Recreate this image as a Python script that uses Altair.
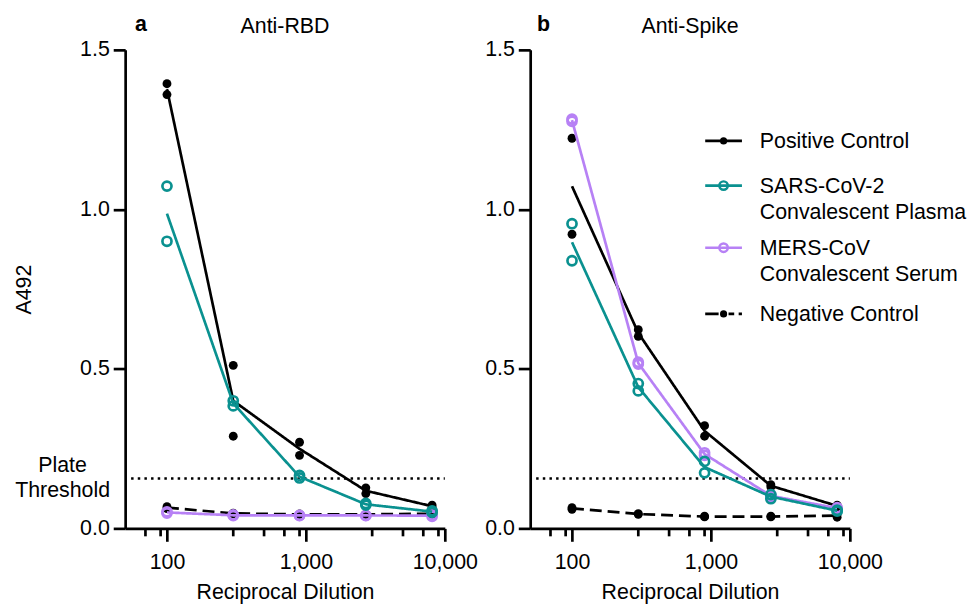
import altair as alt
import pandas as pd

# ---------------- data ----------------
dilutions = [100, 300, 900, 2700, 8100]
major_ticks = [100, 1000, 10000]
minor_ticks = [70, 90, 300, 500, 700, 900, 3000, 5000, 7000, 9000]
plate_threshold = [0.156]

series_names = ["Positive Control", "SARS-CoV-2 Convalescent Plasma",
                "MERS-CoV Convalescent Serum", "Negative Control"]
series_labels = ["Positive Control", "SARS-CoV-2\nConvalescent Plasma",
                 "MERS-CoV\nConvalescent Serum", "Negative Control"]
series_colors = ["#000000", "#0A9190", "#B781F5", "#000000"]

# Anti-RBD, two replicates per dilution
rbd_pos_1 = [1.394, 0.511, 0.270, 0.127, 0.073]
rbd_pos_2 = [1.360, 0.289, 0.229, 0.109, 0.066]
rbd_sars_1 = [1.073, 0.400, 0.166, 0.078, 0.055]
rbd_sars_2 = [0.900, 0.384, 0.158, 0.073, 0.050]
rbd_mers_1 = [0.052, 0.042, 0.041, 0.041, 0.042]
rbd_mers_2 = [0.048, 0.040, 0.040, 0.040, 0.038]
rbd_neg_1 = [0.068, 0.048, 0.045, 0.045, 0.047]
rbd_neg_2 = [0.062, 0.046, 0.043, 0.043, 0.045]

# Anti-Spike, two replicates per dilution
spk_pos_1 = [1.223, 0.623, 0.322, 0.137, 0.073]
spk_pos_2 = [0.922, 0.602, 0.289, 0.130, 0.068]
spk_sars_1 = [0.955, 0.454, 0.210, 0.106, 0.057]
spk_sars_2 = [0.839, 0.431, 0.174, 0.093, 0.054]
spk_mers_1 = [1.283, 0.521, 0.237, 0.105, 0.065]
spk_mers_2 = [1.276, 0.515, 0.229, 0.099, 0.062]
spk_neg_1 = [0.065, 0.046, 0.038, 0.038, 0.045]
spk_neg_2 = [0.060, 0.044, 0.036, 0.036, 0.035]

readings = {
    "rbd": {
        "Positive Control": (rbd_pos_1, rbd_pos_2),
        "SARS-CoV-2 Convalescent Plasma": (rbd_sars_1, rbd_sars_2),
        "MERS-CoV Convalescent Serum": (rbd_mers_1, rbd_mers_2),
        "Negative Control": (rbd_neg_1, rbd_neg_2),
    },
    "spike": {
        "Positive Control": (spk_pos_1, spk_pos_2),
        "SARS-CoV-2 Convalescent Plasma": (spk_sars_1, spk_sars_2),
        "MERS-CoV Convalescent Serum": (spk_mers_1, spk_mers_2),
        "Negative Control": (spk_neg_1, spk_neg_2),
    },
}

# ---------------- styling ----------------
FONT = "Liberation Sans"
FS = 21.5
W, H = 322, 482
LW = 2.7
draw_order = ["Negative Control", "Positive Control",
              "MERS-CoV Convalescent Serum", "SARS-CoV-2 Convalescent Plasma"]
filled = {"Positive Control": True, "Negative Control": True,
          "SARS-CoV-2 Convalescent Plasma": False, "MERS-CoV Convalescent Serum": False}
line_dash = {"Negative Control": [12, 6]}
legend_dash = {"Negative Control": [13.5, 10, 5.7, 4.5]}

# legend placement inside panel b (pixels from the plot's top-left corner)
LEG_X1, LEG_X2, LEG_TX = 176.3, 213.3, 231.3
legend_rows_y = [91.7, 136.7, 199.3, 266.0]

color_scale = alt.Scale(domain=series_names, range=series_colors)


def frame(key, name):
    r1, r2 = readings[key][name]
    rows = []
    for d, a, b in zip(dilutions, r1, r2):
        rows.append({"dilution": d, "value": a, "series": name})
        rows.append({"dilution": d, "value": b, "series": name})
    return pd.DataFrame(rows)


def legend_layers():
    out = []
    for name, label, col, yy in zip(series_names, series_labels, series_colors, legend_rows_y):
        row = pd.DataFrame({"series": [name], "label": [label]})
        base = alt.Chart(row)
        out.append(base.mark_rule(color=col, strokeWidth=LW,
                                  strokeDash=legend_dash.get(name, [1, 0]))
                   .encode(x=alt.value(LEG_X1), x2=alt.value(LEG_X2), y=alt.value(yy)))
        if filled[name]:
            out.append(base.mark_point(filled=True, size=52, color=col, opacity=1)
                       .encode(x=alt.value((LEG_X1 + LEG_X2) / 2), y=alt.value(yy)))
        else:
            out.append(base.mark_point(filled=False, size=72, strokeWidth=2.5, color=col, opacity=1)
                       .encode(x=alt.value((LEG_X1 + LEG_X2) / 2), y=alt.value(yy)))
        out.append(base.mark_text(font=FONT, fontSize=FS, align="left", baseline="middle",
                                  lineBreak="\n", lineHeight=26.5, color="black")
                   .encode(text="label:N", x=alt.value(LEG_TX), y=alt.value(yy + 1)))
    return out


def panel(key, letter, title, first):
    x_enc = alt.X("dilution:Q",
                  scale=alt.Scale(type="log", domain=[50, 10000], nice=False),
                  axis=alt.Axis(values=major_ticks, format=",", title="Reciprocal Dilution",
                                labelFlush=False, labelOverlap=False, tickSize=13,
                                labelPadding=10, titlePadding=9, grid=False))
    y_enc = alt.Y("value:Q",
                  scale=alt.Scale(domain=[0, 1.5], nice=False, zero=False),
                  axis=alt.Axis(values=[0, 0.5, 1.0, 1.5], format=".1f",
                                title="A492" if first else None,
                                labelFlush=False, labelOverlap=False, tickSize=12,
                                labelPadding=4, titlePadding=44, grid=False))
    layers = []
    # plate threshold
    thr = pd.DataFrame({"value": plate_threshold})
    layers.append(alt.Chart(thr).mark_rule(color="black", strokeWidth=2.5, strokeDash=[2.5, 4.2])
                  .encode(y=y_enc, x=alt.value(6), x2=alt.value(W)))
    # minor ticks of the log axis
    mt = pd.DataFrame({"dilution": minor_ticks})
    layers.append(alt.Chart(mt).mark_rule(color="black", strokeWidth=LW)
                  .encode(x=x_enc, y=alt.value(H), y2=alt.value(H + 8)))
    for name in draw_order:
        df = frame(key, name)
        layers.append(alt.Chart(df).mark_line(strokeWidth=LW, strokeDash=line_dash.get(name, [1, 0]))
                      .encode(x=x_enc, y=alt.Y("mean(value):Q"),
                              color=alt.Color("series:N", scale=color_scale, legend=None)))
        if filled[name]:
            pm = alt.Chart(df).mark_point(filled=True, size=80, opacity=1)
        else:
            pm = alt.Chart(df).mark_point(filled=False, size=84, strokeWidth=LW, opacity=1)
        layers.append(pm.encode(x=x_enc, y="value:Q",
                                color=alt.Color("series:N", scale=color_scale, legend=None)))
    # panel letter and title
    lab = pd.DataFrame({"t": [letter]})
    layers.append(alt.Chart(lab).mark_text(font=FONT, fontSize=FS, fontWeight="bold", align="center",
                                           baseline="alphabetic")
                  .encode(text="t:N", x=alt.value(16 if first else 13.5), y=alt.value(-19.5)))
    tt = pd.DataFrame({"t": [title]})
    layers.append(alt.Chart(tt).mark_text(font=FONT, fontSize=FS, align="center", baseline="alphabetic")
                  .encode(text="t:N", x=alt.value(W / 2), y=alt.value(-16.5)))
    if first:
        pt = pd.DataFrame({"value": plate_threshold, "t": ["Plate\nThreshold"]})
        layers.append(alt.Chart(pt).mark_text(font=FONT, fontSize=FS, align="center", baseline="middle",
                                              lineBreak="\n", lineHeight=25.5, dy=-12.75)
                      .encode(text="t:N", y="value:Q", x=alt.value(-63)))
    else:
        layers.extend(legend_layers())
    return alt.layer(*layers).properties(width=W, height=H)


chart = alt.hconcat(panel("rbd", "a", "Anti-RBD", True),
                    panel("spike", "b", "Anti-Spike", False),
                    spacing=86, bounds="flush")

chart = chart.properties(
    padding={"left": 6, "top": 3, "right": 0, "bottom": 0}
).configure_view(
    stroke=None
).configure_axis(
    domainColor="black", domainWidth=LW, tickColor="black", tickWidth=LW,
    labelFont=FONT, labelFontSize=FS, labelColor="black",
    titleFont=FONT, titleFontSize=FS, titleFontWeight="normal", titleColor="black"
)

chart.save("out.html", embed_options={"renderer": "svg", "actions": False})
